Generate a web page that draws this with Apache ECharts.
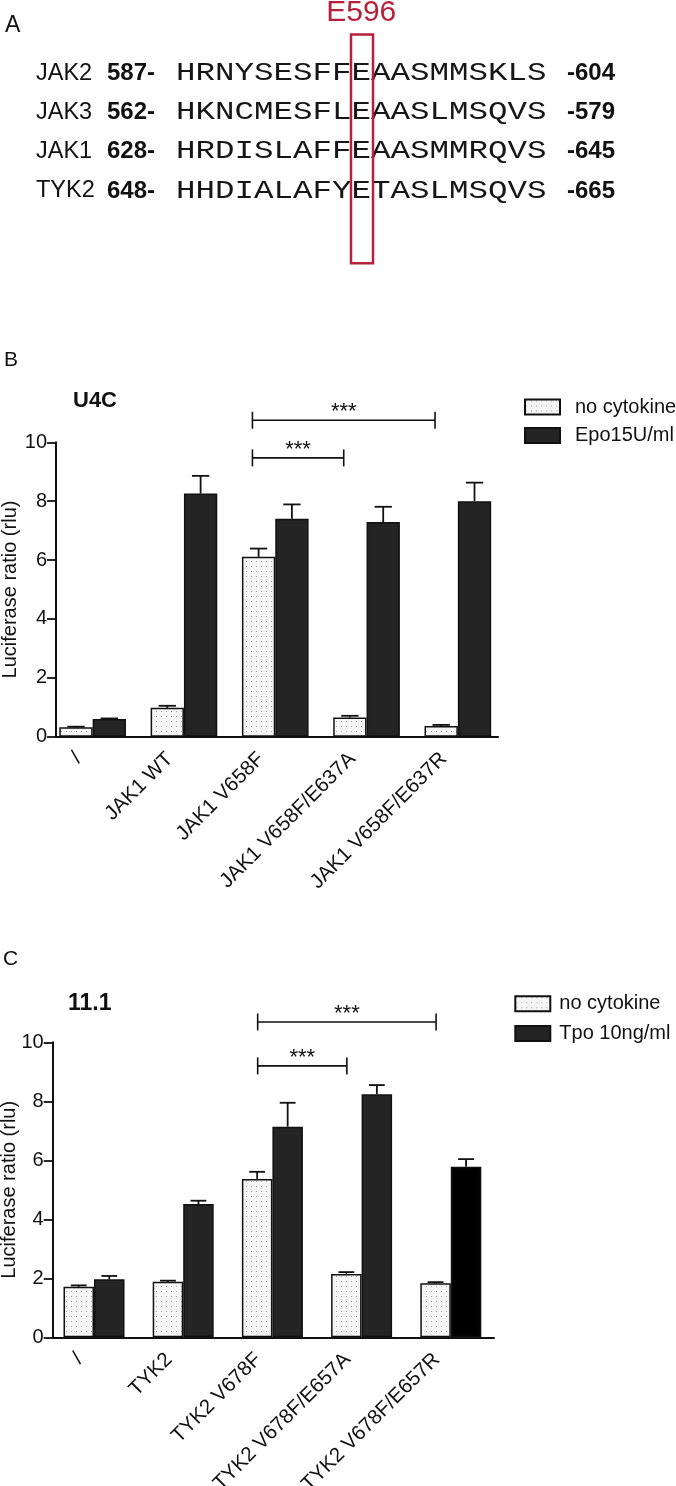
<!DOCTYPE html>
<html><head><meta charset="utf-8">
<script src="https://cdn.jsdelivr.net/npm/echarts@6/dist/echarts.min.js"></script>
<style>html,body{margin:0;padding:0;background:#fff}#c{width:676px;height:1486px}</style>
</head><body><div id="c"></div>
<script>
// ---------- Panel A data ----------
const seqNames = ['JAK2', 'JAK3', 'JAK1', 'TYK2'];
const seqStartNums = ['587-', '562-', '628-', '648-'];
const seqs = ['HRNYSESFFEAASMMSKLS', 'HKNCMESFLEAASLMSQVS', 'HRDISLAFFEAASMMRQVS', 'HHDIALAFYETASLMSQVS'];
const seqEndNums = ['-604', '-579', '-645', '-665'];
const highlightLabel = 'E596';
const highlightCol = 9;

// ---------- Panel B data ----------
const bTitle = 'U4C';
const bCategories = ['/', 'JAK1 WT', 'JAK1 V658F', 'JAK1 V658F/E637A', 'JAK1 V658F/E637R'];
const bSeriesNames = ['no cytokine', 'Epo15U/ml'];
const bNoCyt = [0.32, 0.98, 6.11, 0.65, 0.36];
const bNoCytErr = [0.02, 0.07, 0.28, 0.06, 0.04];
const bEpo = [0.60, 8.26, 7.40, 7.29, 8.00];
const bEpoErr = [0.02, 0.60, 0.49, 0.52, 0.63];
const bSig = [[2, 3, 9.47], [2, 4, 10.75]];
const bSigLabels = ['***', '***'];

// ---------- Panel C data ----------
const cTitle = '11.1';
const cCategories = ['/', 'TYK2', 'TYK2 V678F', 'TYK2 V678F/E657A', 'TYK2 V678F/E657R'];
const cSeriesNames = ['no cytokine', 'Tpo 10ng/ml'];
const cNoCyt = [1.71, 1.88, 5.37, 2.15, 1.83];
const cNoCytErr = [0.05, 0.04, 0.24, 0.06, 0.04];
const cTpo = [1.97, 4.52, 7.14, 8.24, 5.78];
const cTpoErr = [0.11, 0.11, 0.81, 0.31, 0.26];
const cSig = [[2, 3, 9.2], [2, 4, 10.69]];
const cSigLabels = ['***', '***'];

const yMin = 0, yMax = 10, yStep = 2;
const yName = 'Luciferase ratio (rlu)';

// ---------- styling ----------
const FF = '"Liberation Sans", Arial, sans-serif';
const INK = '#111';
const DARK = '#242424';
const RED = '#b5203a';

function dotPattern() {
  const c = document.createElement('canvas');
  c.width = 5; c.height = 5;
  const g = c.getContext('2d');
  g.fillStyle = '#f5f5f5'; g.fillRect(0, 0, 5, 5);
  g.fillStyle = '#a9a9a9'; g.fillRect(1, 1, 1, 1);
  return c;
}
const DOTS = { image: dotPattern(), repeat: 'repeat' };

function errRender(gapFrac) {
  return function (params, api) {
    const i = api.value(0), v = api.value(1), t = api.value(2), slot = api.value(3);
    const band = api.size([1, 0])[0];
    const bw = band * (1 - gapFrac) / 2;
    const p0 = api.coord([i, v]), p1 = api.coord([i, t]);
    const x = p0[0] + (slot === 0 ? -bw / 2 : bw / 2);
    const cap = bw * 0.26;
    const st = { stroke: INK, lineWidth: 1.8 };
    return { type: 'group', children: [
      { type: 'line', shape: { x1: x, y1: p0[1], x2: x, y2: p1[1] }, style: st },
      { type: 'line', shape: { x1: x - cap, y1: p1[1], x2: x + cap, y2: p1[1] }, style: st }
    ]};
  };
}
function sigRender(offFrac, labels) {
  return function (params, api) {
    const a = api.value(0), b = api.value(1), y = api.value(2);
    const band = api.size([1, 0])[0];
    const p1 = api.coord([a, y]), p2 = api.coord([b, y]);
    const x1 = p1[0] - offFrac * band, x2 = p2[0] - offFrac * band, yy = p1[1];
    const st = { stroke: INK, lineWidth: 1.6 };
    return { type: 'group', children: [
      { type: 'line', shape: { x1: x1, y1: yy, x2: x2, y2: yy }, style: st },
      { type: 'line', shape: { x1: x1, y1: yy - 8.5, x2: x1, y2: yy + 8.5 }, style: st },
      { type: 'line', shape: { x1: x2, y1: yy - 8.5, x2: x2, y2: yy + 8.5 }, style: st },
      { type: 'text', x: (x1 + x2) / 2, y: yy - 8, style: { text: labels[params.dataIndex], fill: INK, font: '22px ' + FF, align: 'center', verticalAlign: 'middle' } }
    ]};
  };
}
function errData(vals, errs, slot) {
  return vals.map((v, i) => [i, v, v + errs[i], slot]);
}

function panel(cfg) {
  const xa = [
    { type: 'category', gridIndex: cfg.gB, data: cfg.cats,
      axisLine: { show: false }, axisTick: { show: false },
      axisLabel: { interval: 0, rotate: 45, fontSize: 20.5, fontFamily: FF, color: INK, margin: 5, padding: [0, 20, 10, 0] } },
    { type: 'value', gridIndex: cfg.gA, min: 0, max: 1,
      axisLine: { show: true, lineStyle: { color: INK, width: 2 } }, axisTick: { show: false },
      axisLabel: { show: false }, splitLine: { show: false } }
  ];
  const ya = [
    { type: 'value', gridIndex: cfg.gB, min: yMin, max: yMax, interval: yStep, show: false, splitLine: { show: false } },
    { type: 'value', gridIndex: cfg.gA, min: yMin, max: yMax, interval: yStep,
      axisLine: { show: true, lineStyle: { color: INK, width: 2 } },
      axisTick: { show: true, length: 9, lineStyle: { color: INK, width: 1.8 } },
      axisLabel: { fontSize: 20, fontFamily: FF, color: INK, margin: 9 },
      splitLine: { show: false },
      name: yName, nameLocation: 'middle', nameGap: cfg.nameGap, nameMoveOverlap: false,
      nameTextStyle: { fontSize: 20, fontFamily: FF, color: INK } }
  ];
  const barBase = { type: 'bar', xAxisIndex: cfg.xi, yAxisIndex: cfg.xi, barGap: '0%', barCategoryGap: cfg.gap * 100 + '%' };
  const series = [
    Object.assign({}, barBase, { name: cfg.names[0], data: cfg.v0,
      itemStyle: { color: DOTS, borderColor: INK, borderWidth: 1.5 } }),
    Object.assign({}, barBase, { name: cfg.names[1], data: cfg.v1,
      itemStyle: { color: DARK, borderColor: INK, borderWidth: 1.5 } }),
    { type: 'custom', xAxisIndex: cfg.xi, yAxisIndex: cfg.xi, renderItem: errRender(cfg.gap),
      data: errData(cfg.v0raw, cfg.e0, 0).concat(errData(cfg.v1raw, cfg.e1, 1)), z: 5, silent: true },
    { type: 'custom', xAxisIndex: cfg.xi, yAxisIndex: cfg.xi, renderItem: sigRender(cfg.sigOff, cfg.sigLabels),
      data: cfg.sig, clip: false, z: 5, silent: true }
  ];
  return { xa, ya, series };
}

const pB = panel({ gB: 0, gA: 1, xi: 0, cats: bCategories, names: bSeriesNames,
  v0: bNoCyt, v1: bEpo, v0raw: bNoCyt, v1raw: bEpo, e0: bNoCytErr, e1: bEpoErr,
  gap: 0.27, sig: bSig, sigLabels: bSigLabels, sigOff: 0.25, nameGap: 36 });
const pC = panel({ gB: 2, gA: 3, xi: 2, cats: cCategories, names: cSeriesNames,
  v0: cNoCyt, v1: cTpo.map((v, i) => i === cTpo.length - 1 ? { value: v, itemStyle: { color: '#000' } } : v),
  v0raw: cNoCyt, v1raw: cTpo, e0: cNoCytErr, e1: cTpoErr,
  gap: 0.316, sig: cSig, sigLabels: cSigLabels, sigOff: 0.165, nameGap: 33 });

// ---------- Panel A graphics ----------
const rowY0 = 73.3, rowStep = 39.2, seqX = 176, cellW = 19.5;
const graphics = [];
function txt(x, y, text, font, fill, align, extra) {
  return Object.assign({ type: 'text', x: x, y: y, silent: true,
    style: { text: text, font: font, fill: fill || INK, align: align || 'left', verticalAlign: 'middle' } }, extra || {});
}
graphics.push(txt(5, 25.5, 'A', '23px ' + FF));
graphics.push(txt(seqX + (highlightCol + 0.5) * cellW, 12.5, highlightLabel, '30px ' + FF, RED, 'center'));
seqNames.forEach((n, r) => {
  const y = rowY0 + r * rowStep;
  graphics.push(txt(36, y, n, '23.5px ' + FF));
  graphics.push(txt(107, y, seqStartNums[r], 'bold 24px ' + FF));
  graphics.push(txt(seqX, y, seqs[r], '32.5px "Liberation Mono", monospace', '#161616', 'left', { scaleY: 0.78 }));
  graphics.push(txt(567, y, seqEndNums[r], 'bold 24px ' + FF));
});
graphics.push({ type: 'rect', silent: true,
  shape: { x: seqX + highlightCol * cellW - 0.5, y: 34.5, width: cellW + 2.5, height: 228.7 },
  style: { fill: 'none', stroke: RED, lineWidth: 2.5 } });
graphics.push(txt(4, 360, 'B', '21px ' + FF));
graphics.push(txt(73, 401, bTitle, 'bold 22px ' + FF));
graphics.push(txt(3, 959, 'C', '21px ' + FF));
graphics.push(txt(68, 1003.5, cTitle, 'bold 23px ' + FF));

const legendBase = { orient: 'vertical', padding: 0, itemWidth: 35, itemHeight: 15, icon: 'rect', selectedMode: false };
const gridBase = { containLabel: false, outerBoundsMode: 'none' };

const option = {
  animation: false,
  backgroundColor: '#fff',
  grid: [
    Object.assign({ left: 47, top: 442.3, width: 456.5, height: 294.4 }, gridBase),
    Object.assign({ left: 56, top: 442.3, width: 442, height: 294.4 }, gridBase),
    Object.assign({ left: 49.4, top: 1042.3, width: 446, height: 295 }, gridBase),
    Object.assign({ left: 52.7, top: 1042.3, width: 441.3, height: 295 }, gridBase)
  ],
  xAxis: pB.xa.concat(pC.xa),
  yAxis: pB.ya.concat(pC.ya),
  legend: [
    Object.assign({}, legendBase, { data: bSeriesNames, left: 524, top: 397, itemGap: 8.5,
      textStyle: { fontSize: 20, fontFamily: FF, color: INK, padding: [0, 0, 0, 10] } }),
    Object.assign({}, legendBase, { data: cSeriesNames, left: 514.3, top: 993.7, itemGap: 9.8,
      textStyle: { fontSize: 20, fontFamily: FF, color: INK, padding: [0, 0, 0, 4] } })
  ],
  series: pB.series.concat(pC.series),
  graphic: graphics
};

const chart = echarts.init(document.getElementById('c'), null, { renderer: 'canvas', width: 676, height: 1486 });
chart.setOption(option);
</script>
</body></html>
